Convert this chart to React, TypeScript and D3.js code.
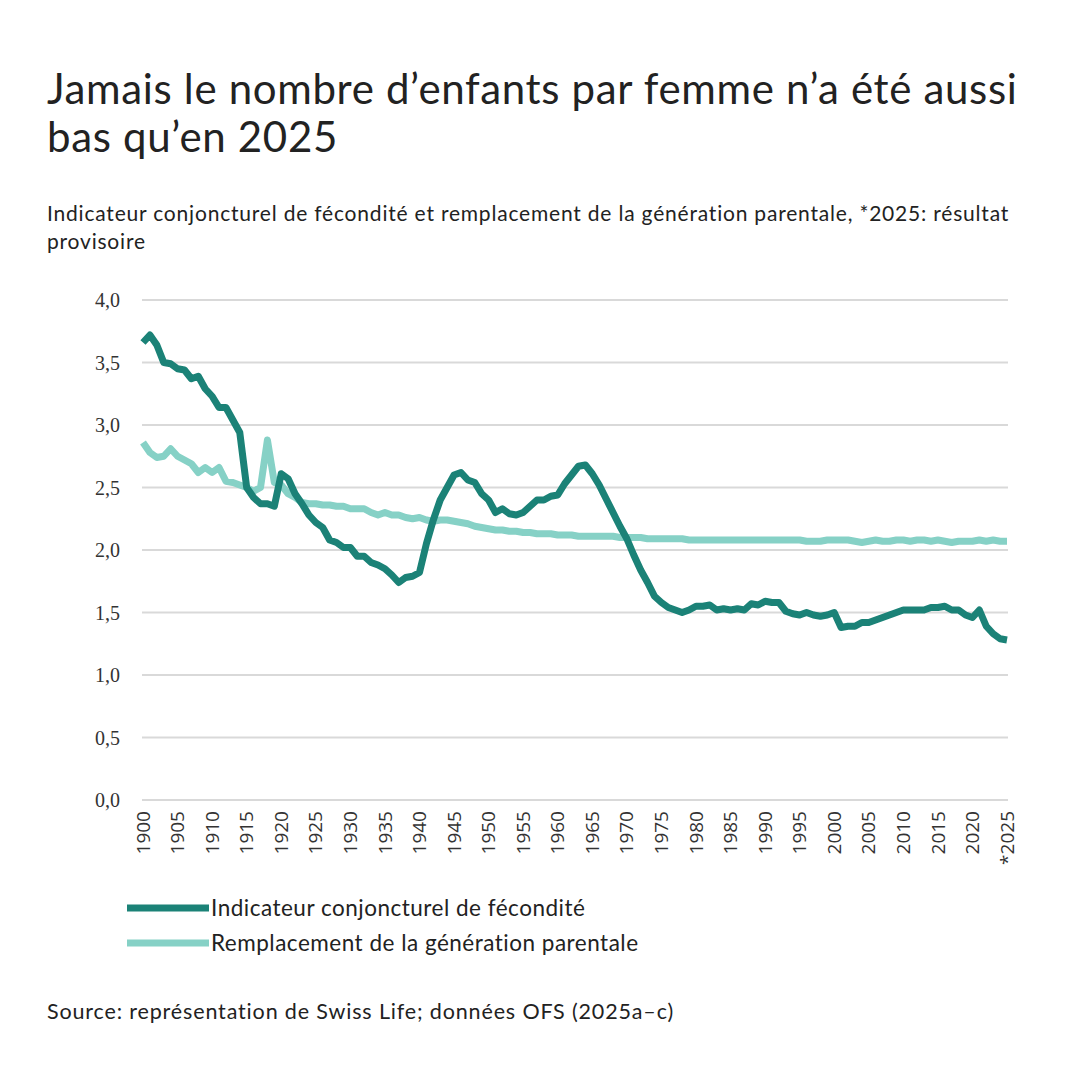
import * as d3 from 'd3'

// years 1900 .. 2025
const years = d3.range(1900, 2026)

// Indicateur conjoncturel de fécondité
const fertility = [
  3.66, 3.72, 3.64, 3.5, 3.49, 3.45, 3.44, 3.37, 3.39, 3.29,
  3.23, 3.14, 3.14, 3.04, 2.94, 2.5, 2.42, 2.37, 2.37, 2.35,
  2.61, 2.57, 2.45, 2.37, 2.28, 2.22, 2.18, 2.08, 2.06, 2.02,
  2.02, 1.95, 1.95, 1.9, 1.88, 1.85, 1.8, 1.74, 1.78, 1.79,
  1.82, 2.05, 2.24, 2.4, 2.5, 2.6, 2.62, 2.56, 2.54, 2.45,
  2.4, 2.3, 2.33, 2.29, 2.28, 2.3, 2.35, 2.4, 2.4, 2.43,
  2.44, 2.53, 2.6, 2.67, 2.68, 2.61, 2.52, 2.41, 2.3, 2.19,
  2.09, 1.96, 1.84, 1.74, 1.63, 1.58, 1.54, 1.52, 1.5, 1.52,
  1.55, 1.55, 1.56, 1.52, 1.53, 1.52, 1.53, 1.52, 1.57, 1.56,
  1.59, 1.58, 1.58, 1.51, 1.49, 1.48, 1.5, 1.48, 1.47, 1.48,
  1.5, 1.38, 1.39, 1.39, 1.42, 1.42, 1.44, 1.46, 1.48, 1.5,
  1.52, 1.52, 1.52, 1.52, 1.54, 1.54, 1.55, 1.52, 1.52, 1.48,
  1.46, 1.52, 1.39, 1.33, 1.29, 1.28,
]

// Remplacement de la génération parentale
const replacement = [
  2.86, 2.78, 2.74, 2.75, 2.81, 2.75, 2.72, 2.69, 2.62, 2.66,
  2.62, 2.66, 2.55, 2.54, 2.52, 2.5, 2.47, 2.5, 2.88, 2.54,
  2.52, 2.45, 2.42, 2.38, 2.37, 2.37, 2.36, 2.36, 2.35, 2.35,
  2.33, 2.33, 2.33, 2.3, 2.28, 2.3, 2.28, 2.28, 2.26, 2.25,
  2.26, 2.24, 2.23, 2.24, 2.24, 2.23, 2.22, 2.21, 2.19, 2.18,
  2.17, 2.16, 2.16, 2.15, 2.15, 2.14, 2.14, 2.13, 2.13, 2.13,
  2.12, 2.12, 2.12, 2.11, 2.11, 2.11, 2.11, 2.11, 2.11, 2.1,
  2.1, 2.1, 2.1, 2.09, 2.09, 2.09, 2.09, 2.09, 2.09, 2.08,
  2.08, 2.08, 2.08, 2.08, 2.08, 2.08, 2.08, 2.08, 2.08, 2.08,
  2.08, 2.08, 2.08, 2.08, 2.08, 2.08, 2.07, 2.07, 2.07, 2.08,
  2.08, 2.08, 2.08, 2.07, 2.06, 2.07, 2.08, 2.07, 2.07, 2.08,
  2.08, 2.07, 2.08, 2.08, 2.07, 2.08, 2.07, 2.06, 2.07, 2.07,
  2.07, 2.08, 2.07, 2.08, 2.07, 2.07,
]

const yTicks = [0, 0.5, 1, 1.5, 2, 2.5, 3, 3.5, 4]
const xTicks = d3.range(1900, 2026, 5)
const xTickLabel = (y: number) => (y === 2025 ? '*2025' : String(y))

const DARK = '#1b8277'
const LIGHT = '#86d1c6'
const SANS = 'Lato, "Open Sans", sans-serif'

const App = () => {
  const W = 1080
  const H = 1080

  const x = d3.scaleLinear().domain([1900, 2025]).range([143, 1007])
  const y = d3.scaleLinear().domain([0, 4]).range([800, 300])

  const line = (vals: number[]) =>
    d3
      .line<number>()
      .x((_, i) => x(years[i]))
      .y(d => y(d))(vals) as string

  const fmt = (v: number) => v.toFixed(1).replace('.', ',')

  return (
    <svg
      width={W}
      height={H}
      style={{ position: 'absolute', left: 0, top: 0, background: '#fff' }}
    >
      <rect width={W} height={H} fill="#fff" />

      {/* Title */}
      <text fontFamily={SANS} fontSize={42} letterSpacing={0.66} fill="#222">
        <tspan x={47} y={104}>Jamais le nombre d’enfants par femme n’a été aussi</tspan>
        <tspan x={47} y={152}>bas qu’en 2025</tspan>
      </text>

      {/* Subtitle */}
      <text fontFamily={SANS} fontSize={21} letterSpacing={0.8} fill="#222">
        <tspan x={47} y={221}>
          Indicateur conjoncturel de fécondité et remplacement de la génération parentale, *2025: résultat
        </tspan>
        <tspan x={47} y={249}>provisoire</tspan>
      </text>

      {/* Gridlines */}
      {yTicks.map(t => (
        <line key={t} x1={142} x2={1008} y1={y(t)} y2={y(t)} stroke="#d9d9d9" strokeWidth={2} />
      ))}

      {/* Y labels */}
      {yTicks.map(t => (
        <text
          key={'yl' + t}
          x={120}
          y={y(t)}
          dy="0.35em"
          textAnchor="end"
          fontFamily='"Liberation Serif", serif'
          fontSize={20}
          fill="#333"
        >
          {fmt(t)}
        </text>
      ))}

      {/* X labels */}
      {xTicks.map(t => (
        <text
          key={'xl' + t}
          transform={`translate(${x(t)},${811}) rotate(-90)`}
          dy="0.35em"
          textAnchor="end"
          fontFamily='"Open Sans", sans-serif'
          fontSize={19}
          fill="#333"
        >
          {xTickLabel(t)}
        </text>
      ))}

      {/* Lines */}
      <path d={line(replacement)} fill="none" stroke={LIGHT} strokeWidth={7} strokeLinejoin="round" />
      <path d={line(fertility)} fill="none" stroke={DARK} strokeWidth={7} strokeLinejoin="round" />

      {/* Legend */}
      <line x1={127} x2={209} y1={908} y2={908} stroke={DARK} strokeWidth={7} />
      <text x={211} y={908} dy="0.35em" fontFamily={SANS} fontSize={22.5} letterSpacing={0.5} fill="#222">
        Indicateur conjoncturel de fécondité
      </text>
      <line x1={127} x2={209} y1={943} y2={943} stroke={LIGHT} strokeWidth={7} />
      <text x={211} y={943} dy="0.35em" fontFamily={SANS} fontSize={22.5} letterSpacing={0.5} fill="#222">
        Remplacement de la génération parentale
      </text>

      {/* Source */}
      <text x={47} y={1019} fontFamily={SANS} fontSize={21.5} letterSpacing={0.85} fill="#222">
        Source: représentation de Swiss Life; données OFS (2025a–c)
      </text>
    </svg>
  )
}

export default App
